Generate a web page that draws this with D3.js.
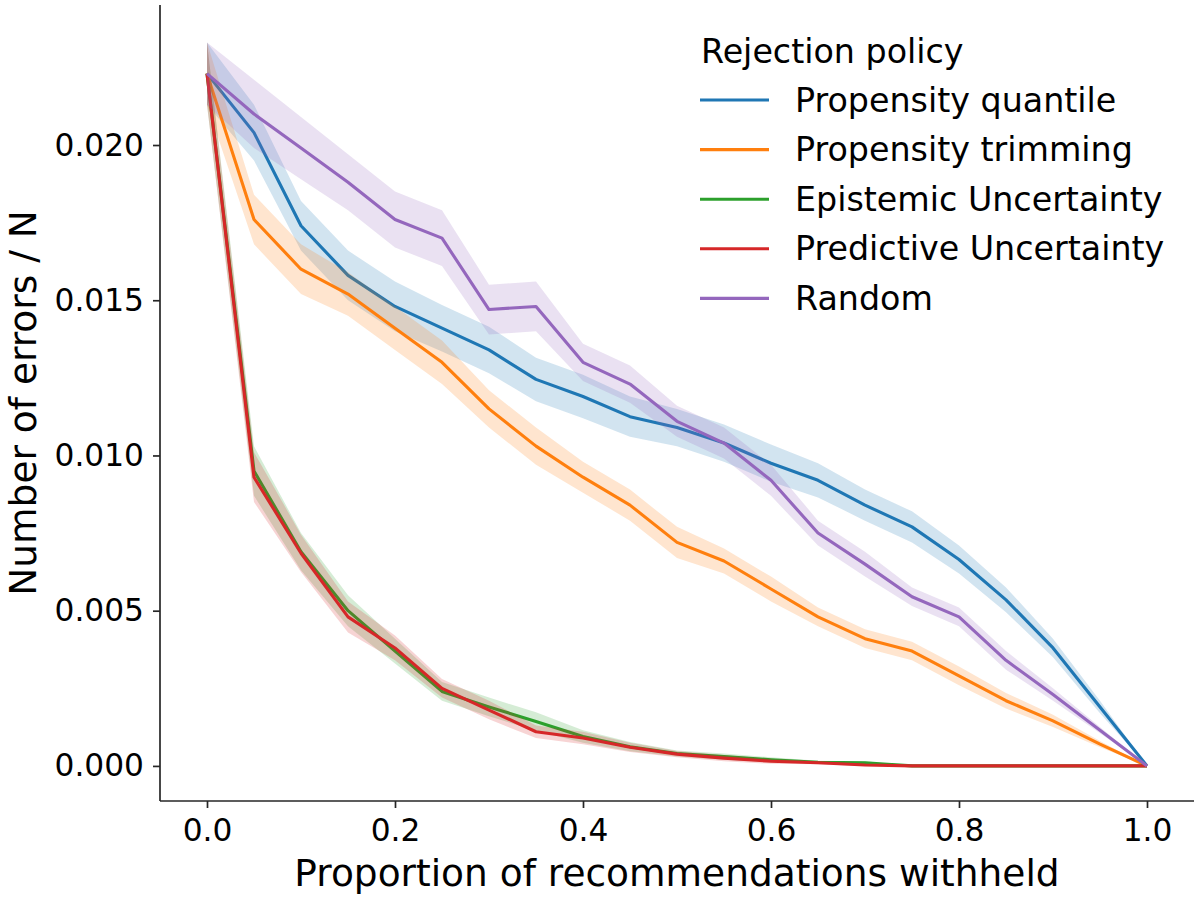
<!DOCTYPE html>
<html>
<head>
<meta charset="utf-8">
<script src="https://cdn.jsdelivr.net/npm/d3@7"></script>
<style>
  body { margin: 0; background: #fff; }
  text { font-family: "DejaVu Sans", sans-serif; fill: #000; }
</style>
</head>
<body>
<div id="wrapper"></div>
<script>
// proportion withheld
const xValues = [0, 0.05, 0.1, 0.15, 0.2, 0.25, 0.3, 0.35, 0.4, 0.45, 0.5,
                 0.55, 0.6, 0.65, 0.7, 0.75, 0.8, 0.85, 0.9, 0.95, 1.0]

const seriesNames = ["Propensity quantile", "Propensity trimming", "Epistemic Uncertainty",
                     "Predictive Uncertainty", "Random"]
const seriesColors = ["#1f77b4", "#ff7f0e", "#2ca02c", "#d62728", "#9467bd"]

// mean number of errors / N
const quantileMean = [0.0223, 0.0204, 0.0174, 0.0158, 0.0148, 0.0141, 0.0134, 0.01245, 0.0119, 0.01125, 0.0109,
                      0.0104, 0.00975, 0.0092, 0.0084, 0.0077, 0.00665, 0.00535, 0.0038, 0.0019, 0.0]
const trimmingMean = [0.0223, 0.0176, 0.0160, 0.0152, 0.0141, 0.0130, 0.0115, 0.0103, 0.0093, 0.0084, 0.0072,
                      0.0066, 0.0057, 0.0048, 0.0041, 0.0037, 0.0029, 0.0021, 0.00145, 0.0007, 0.0]
const epistemicMean = [0.0223, 0.0095, 0.0069, 0.0050, 0.0037, 0.0024, 0.0019, 0.00143, 0.00095, 0.00062, 0.0004,
                       0.0003, 0.0002, 0.00012, 0.0001, 0.0, 0.0, 0.0, 0.0, 0.0, 0.0]
const predictiveMean = [0.0223, 0.0093, 0.00685, 0.0048, 0.0038, 0.0025, 0.0018, 0.0011, 0.0009, 0.0006, 0.00038,
                        0.00025, 0.00015, 0.0001, 0.00003, 0.0, 0.0, 0.0, 0.0, 0.0, 0.0]
const randomMean = [0.0223, 0.0210, 0.0199, 0.0188, 0.0176, 0.0170, 0.0147, 0.0148, 0.0130, 0.0123, 0.0111,
                    0.0104, 0.0092, 0.0075, 0.0065, 0.00545, 0.0048, 0.0034, 0.0023, 0.00115, 0.0]

// half width of the shaded band
const quantileErr = [0.001, 0.0009, 0.0008, 0.0008, 0.0008, 0.00075, 0.00075, 0.0007, 0.0007, 0.00065, 0.0006,
                     0.0006, 0.0006, 0.00055, 0.0005, 0.0005, 0.00045, 0.0004, 0.0003, 0.0002, 0.0]
const trimmingErr = [0.001, 0.0008, 0.0008, 0.0007, 0.0007, 0.0007, 0.0006, 0.0006, 0.0005, 0.0005, 0.0005,
                     0.0004, 0.0004, 0.0003, 0.0003, 0.0003, 0.0003, 0.00025, 0.0002, 0.0001, 0.0]
const epistemicErr = [0.001, 0.0008, 0.0006, 0.0005, 0.0004, 0.0003, 0.0003, 0.0003, 0.0002, 0.00015, 0.0001,
                      0.0001, 0.00008, 0.00005, 0.00005, 0.0, 0.0, 0.0, 0.0, 0.0, 0.0]
const predictiveErr = [0.001, 0.0008, 0.0006, 0.0005, 0.0004, 0.0003, 0.0003, 0.0002, 0.0002, 0.00015, 0.0001,
                       0.0001, 0.00008, 0.00005, 0.00003, 0.0, 0.0, 0.0, 0.0, 0.0, 0.0]
const randomErr = [0.001, 0.0011, 0.001, 0.0009, 0.0009, 0.0009, 0.0008, 0.0008, 0.0006, 0.0006, 0.0005,
                   0.0005, 0.0005, 0.0004, 0.0004, 0.0003, 0.0003, 0.0003, 0.0002, 0.0001, 0.0]

const xTicks = [0, 0.2, 0.4, 0.6, 0.8, 1.0]
const yTicks = [0, 0.005, 0.010, 0.015, 0.020]

const means = [quantileMean, trimmingMean, epistemicMean, predictiveMean, randomMean]
const errs = [quantileErr, trimmingErr, epistemicErr, predictiveErr, randomErr]

function drawChart(){
    let dimensions = {
        width: 1200,
        height: 900,
        margin: { top: 5, right: 6, bottom: 99, left: 160 },
    }
    dimensions.boundedWidth = dimensions.width - dimensions.margin.left - dimensions.margin.right
    dimensions.boundedHeight = dimensions.height - dimensions.margin.top - dimensions.margin.bottom

    const wrapper = d3.select("#wrapper")
        .append("svg")
        .attr("width", dimensions.width)
        .attr("height", dimensions.height)

    const bounds = wrapper.append("g")
        .attr("transform", `translate(${dimensions.margin.left},${dimensions.margin.top})`)

    // scales
    const xScale = d3.scaleLinear()
        .domain([-0.05, 1.05])
        .range([0, dimensions.boundedWidth])

    const yScale = d3.scaleLinear()
        .domain([-0.00113, 0.02451])
        .range([dimensions.boundedHeight, 0])

    // series rows
    const series = seriesNames.map((name, s) => ({
        name,
        color: seriesColors[s],
        points: xValues.map((x, i) => ({ x, y: means[s][i], e: errs[s][i] }))
    }))

    const areaGen = d3.area()
        .x(d => xScale(d.x))
        .y0(d => yScale(d.y - d.e))
        .y1(d => yScale(d.y + d.e))

    const lineGen = d3.line()
        .x(d => xScale(d.x))
        .y(d => yScale(d.y))

    series.forEach(s => {
        bounds.append("path")
            .attr("d", areaGen(s.points))
            .attr("fill", s.color)
            .attr("fill-opacity", 0.2)
        bounds.append("path")
            .attr("d", lineGen(s.points))
            .attr("fill", "none")
            .attr("stroke", s.color)
            .attr("stroke-width", 3.1)
            .attr("stroke-linejoin", "round")
    })

    // axes
    const xAxis = bounds.append("g")
        .attr("transform", `translate(0,${dimensions.boundedHeight})`)
        .call(d3.axisBottom(xScale).tickValues(xTicks).tickFormat(d3.format(".1f"))
            .tickSize(7).tickPadding(11).tickSizeOuter(0))

    const yAxis = bounds.append("g")
        .call(d3.axisLeft(yScale).tickValues(yTicks).tickFormat(d3.format(".3f"))
            .tickSize(7).tickPadding(9).tickSizeOuter(0))

    ;[xAxis, yAxis].forEach(ax => {
        ax.select(".domain").attr("stroke", "#262626").attr("stroke-width", 1.7)
        ax.selectAll(".tick line").attr("stroke", "#262626").attr("stroke-width", 1.7)
        ax.selectAll(".tick text").style("font-size", "31.25px").attr("fill", "#000")
    })
    xAxis.select(".domain").attr("d", `M0,0H${dimensions.boundedWidth}`)
    yAxis.select(".domain").attr("d", `M0,0V${dimensions.boundedHeight}`)

    wrapper.append("text")
        .attr("x", dimensions.margin.left + dimensions.boundedWidth / 2)
        .attr("y", 886)
        .attr("text-anchor", "middle")
        .style("font-size", "37.5px")
        .text("Proportion of recommendations withheld")

    wrapper.append("text")
        .attr("transform", `translate(36,${dimensions.margin.top + dimensions.boundedHeight / 2}) rotate(-90)`)
        .attr("text-anchor", "middle")
        .style("font-size", "37.5px")
        .text("Number of errors / N")

    // legend
    const legend = wrapper.append("g")
    legend.append("text")
        .attr("x", 701)
        .attr("y", 62.7)
        .style("font-size", "33.3px")
        .text("Rejection policy")

    const items = legend.selectAll(".item")
        .data(series)
        .enter()
        .append("g")
        .attr("transform", (d, i) => `translate(0,${i * 49.6})`)

    items.append("line")
        .attr("x1", 700).attr("x2", 769)
        .attr("y1", 100).attr("y2", 100)
        .attr("stroke", d => d.color)
        .attr("stroke-width", 3.1)

    items.append("text")
        .attr("x", 795)
        .attr("y", 111.7)
        .style("font-size", "33.3px")
        .text(d => d.name)
}

drawChart()
</script>
</body>
</html>
